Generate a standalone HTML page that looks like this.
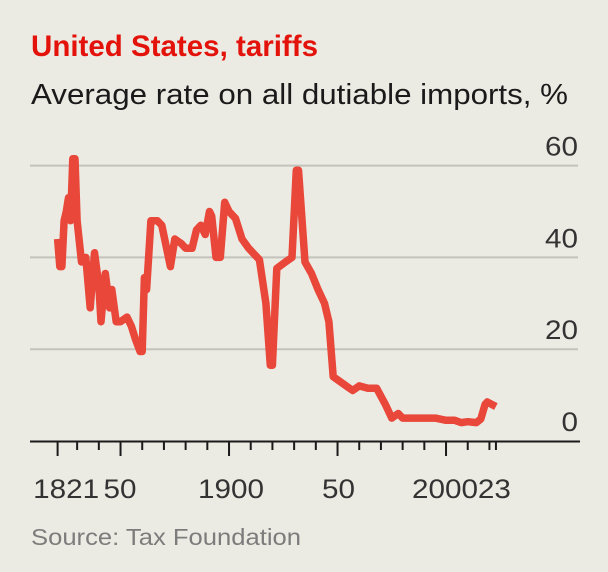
<!DOCTYPE html>
<html><head><meta charset="utf-8"><style>
html,body{margin:0;padding:0;background:#ecebe3;}
svg{display:block;font-family:"Liberation Sans",sans-serif;}
</style></head><body>
<svg id="chart" width="608" height="572" viewBox="0 0 608 572">
<rect width="608" height="572" fill="#ecebe3"/>
<text x="31" y="56" font-size="30" font-weight="bold" fill="#e3120b" textLength="287" lengthAdjust="spacingAndGlyphs">United States, tariffs</text>
<text x="31" y="104" font-size="29" fill="#1a1a1a" textLength="537" lengthAdjust="spacingAndGlyphs">Average rate on all dutiable imports, %</text>
<g id="grid"></g>
<g id="xaxis"></g>
<g id="series"></g>
<text x="31" y="545" font-size="23" fill="#7c7c7c" textLength="270" lengthAdjust="spacingAndGlyphs">Source: Tax Foundation</text>
</svg>
<script>
const years = [1821,1822,1823,1824,1825,1826,1827,1828,1829,1830,1832,1834,1836,1838,1840,1841,1843,1845,1846,1848,1850,1853,1855,1857,1859,1860,1861,1862,1864,1867,1869,1873,1875,1878,1880,1883,1885,1887,1889,1891,1892,1894,1896,1898,1900,1903,1906,1909,1914,1917,1919,1920,1922,1926,1929,1931,1932,1935,1938,1941,1944,1946,1948,1951,1954,1957,1960,1964,1968,1972,1975,1978,1980,1985,1990,1995,2000,2004,2007,2010,2014,2016,2018,2019,2021,2023];
const rates = [44,38,38,48,50,53,48,61.5,61.5,48,39,40,29,41,34,26,36.5,29,33,26,26,27,25,22,19.5,19.5,35.6,33,48,48,47,38,44,43,42,42,46,47,45,50,49,40,40,52,50,48.5,44,42,39.5,30,16.5,16.5,37.6,39,40,59,59,39,36.5,33,30,26,14,13,12,11,12,11.5,11.5,8,5,6,5,5,5,5,4.5,4.5,4,4.2,4,4.8,8,8.5,8,7.5];
const yTicks = [0,20,40,60];
const xTickLabels = ["1821","50","1900","50","2000","23"];
const xTickYears = [1821,1850,1900,1950,2000,2023];

const svg = document.getElementById('chart');
const NS = 'http://www.w3.org/2000/svg';
const x = yr => 57.6 + (yr - 1821) * 2.17;
const y = v => 441 - v * 4.59;
function mk(tag, attrs, parent){const e=document.createElementNS(NS,tag);for(const k in attrs)e.setAttribute(k,attrs[k]);parent.appendChild(e);return e;}

const grid = document.getElementById('grid');
yTicks.forEach(t=>{
  if(t!==0){
    const l = mk('line',{x1:30,x2:578,y1:y(t),y2:y(t),stroke:'#c3c2bb','stroke-width':2},grid);
    
    
  }
  const w = String(t).length*16.5;
  const tx = mk('text',{x:578-w,y:y(t)-10,'font-size':27,fill:'#333',textLength:w,lengthAdjust:'spacingAndGlyphs'},grid);
  tx.textContent = t;
  
  
});

const xa = document.getElementById('xaxis');
const axis = mk('line',{x1:30,x2:580,y1:441.5,y2:441.5,stroke:'#1a1a1a','stroke-width':2},xa);


for(let yr=1830; yr<=2020; yr+=10){
  const major = (yr%50===0);
  const t = mk('line',{x1:x(yr),x2:x(yr),y1:442,y2:major?456:450,stroke:'#1a1a1a','stroke-width':2},xa);
  
  
}
[1821,2023].forEach(yr=>{
  const t = mk('line',{x1:x(yr),x2:x(yr),y1:442,y2:yr===2023?450:456,stroke:'#1a1a1a','stroke-width':2},xa);
  
  
});
const labelOffsets = [-24.5,-17,-31,-15.5,-34,-18];
xTickLabels.forEach((lab,i)=>{
  const yr = xTickYears[i];
  const w = lab.length*16.5;
  let px = x(yr)+labelOffsets[i];
  const t = mk('text',{x:px,y:498,'font-size':27,fill:'#333',textLength:w,lengthAdjust:'spacingAndGlyphs'},xa);
  t.textContent = lab;
  
  
});

const ser = document.getElementById('series');
let d='';
years.forEach((yr,i)=>{d += (i?'L':'M') + x(yr).toFixed(1)+','+y(rates[i]).toFixed(1);});
const path = mk('path',{d:d,fill:'none',stroke:'#e8473a','stroke-width':7.5,'stroke-linejoin':'round','stroke-linecap':'butt'},ser);


</script>
</body></html>
